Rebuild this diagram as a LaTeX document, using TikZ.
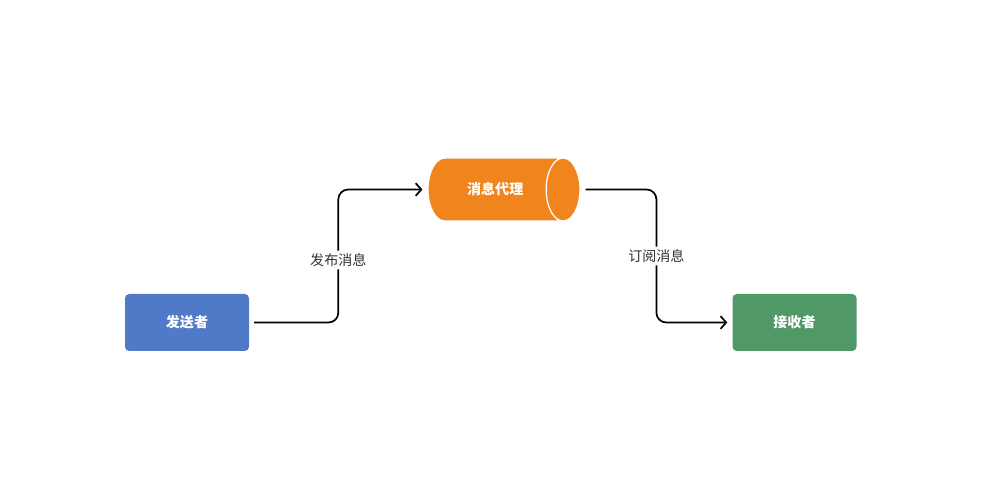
\documentclass[tikz,border=0pt]{standalone}
\usepackage{fontspec}
\usepackage{xcolor}
\usepackage{tikz}
\usetikzlibrary{positioning, calc, arrows.meta, shapes.geometric}
\newfontfamily\cjk{Noto Sans CJK SC}
\definecolor{sendblue}{HTML}{5079C8}
\definecolor{mqorange}{HTML}{F0851E}
\definecolor{recvgreen}{HTML}{509866}
\definecolor{labelgray}{HTML}{333333}

\begin{document}
\begin{tikzpicture}[
    party/.style={rectangle, rounded corners=3pt, minimum width=3.1cm, minimum height=1.425cm, align=center, text=white, font=\cjk\bfseries\fontsize{10}{12}\selectfont},
    broker/.style={cylinder, shape border rotate=0, aspect=2.5, minimum height=3.8cm, minimum width=1.575cm, inner sep=0pt, fill=mqorange, draw=white, line width=0.9pt, text=white, font=\cjk\bfseries\fontsize{10}{12}\selectfont},
    flow/.style={-{Straight Barb[length=4pt, width=9pt]}, line width=1.2pt, rounded corners=7pt, shorten <=3.5pt, shorten >=3.5pt},
    tag/.style={fill=white, inner sep=2pt, text=labelgray, font=\cjk\fontsize{10}{12}\selectfont}
]
    \useasboundingbox (0,0) rectangle (24.675,12.35);

    \node[party, fill=sendblue] (sender) at (4.675,4.2875) {发送者};
    \node[broker] (broker) at (12.38,7.6125) {消息代理};
    \node[party, fill=recvgreen] (receiver) at (19.8625,4.2875) {接收者};

    % publish / subscribe
    \draw[flow] (sender.east) -| ($(sender.east)!0.5!(broker.west)$) node[tag, yshift=-0.1cm] {发布消息} |- (broker.west);
    \draw[flow] (broker.east) -| ($(broker.east)!0.5!(receiver.west)$) node[tag] {订阅消息} |- (receiver.west);
\end{tikzpicture}
\end{document}
